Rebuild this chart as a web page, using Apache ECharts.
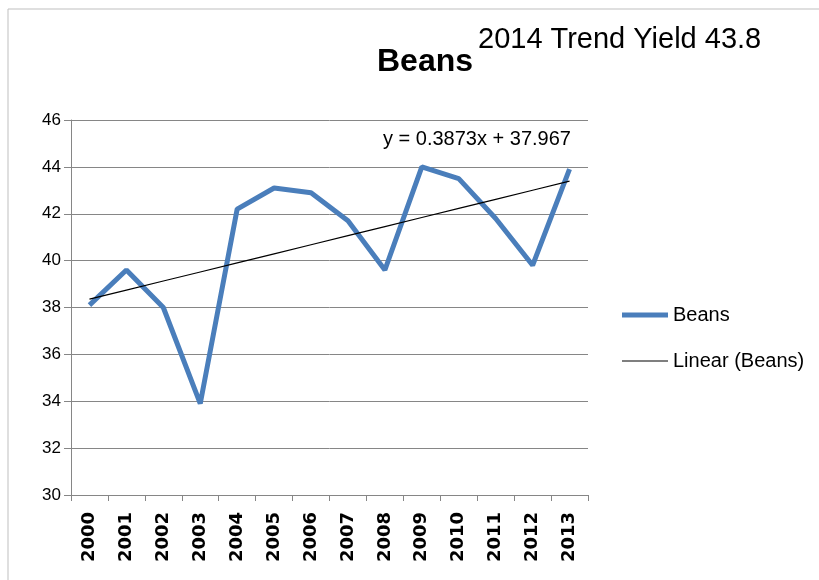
<!DOCTYPE html>
<html><head><meta charset="utf-8">
<script src="https://cdn.jsdelivr.net/npm/echarts@6/dist/echarts.min.js"></script>
<style>html,body{margin:0;padding:0;background:#fff}#c{width:819px;height:580px}</style>
</head><body><div id="c"></div>
<script>
const years = ['2000','2001','2002','2003','2004','2005','2006','2007','2008','2009','2010','2011','2012','2013'];
const beans = [38.1, 39.6, 38.0, 33.9, 42.2, 43.1, 42.9, 41.7, 39.6, 44.0, 43.5, 41.8, 39.8, 43.9];
const slope = 0.3873, intercept = 37.967;
const trend = years.map((_, i) => +(slope * (i + 1) + intercept).toFixed(3));
const yTicks = [30, 46, 2];

const chart = echarts.init(document.getElementById('c'), null, {renderer: 'canvas'});
const font = "'Liberation Sans', sans-serif";
chart.setOption({
  animation: false,
  backgroundColor: '#fff',
  textStyle: {fontFamily: font},
  title: {
    text: 'Beans', left: 420, top: 41, textAlign: 'center',
    textStyle: {fontSize: 32, fontWeight: 'bold', color: '#000', fontFamily: font}
  },
  graphic: [
    {type: 'rect', shape: {x: 8, y: 9, width: 900, height: 700}, style: {fill: 'none', stroke: '#bfbfbf', lineWidth: 1}, silent: true},
    {type: 'text', left: 478, top: 25, style: {text: '2014 Trend Yield 43.8', fontSize: 29, fill: '#000', fontFamily: font}},
    {type: 'text', left: 383, top: 129, style: {text: 'y = 0.3873x + 37.967', fontSize: 20, fill: '#000', fontFamily: font}}
  ],
  legend: {
    orient: 'vertical', left: 617, top: 300, itemGap: 26, itemWidth: 46, itemHeight: 14,
    textStyle: {fontSize: 20, color: '#000', fontFamily: font},
    data: [
      {name: 'Beans', icon: 'path://M0,0 L46,0 L46,5 L0,5 Z'},
      {name: 'Linear (Beans)', icon: 'path://M0,0 L46,0 L46,1 L0,1 Z'}
    ]
  },
  grid: {left: 71, right: 231, top: 120, bottom: 85},
  xAxis: {
    type: 'category', data: years, boundaryGap: true,
    axisLine: {lineStyle: {color: '#868686', width: 1}},
    axisTick: {show: true, length: 6, lineStyle: {color: '#868686'}},
    axisLabel: {rotate: 90, fontSize: 18, fontWeight: 'bold', color: '#000', margin: 17, fontFamily: 'DejaVu Sans'}
  },
  yAxis: {
    type: 'value', min: yTicks[0], max: yTicks[1], interval: yTicks[2],
    axisLine: {show: true, lineStyle: {color: '#868686', width: 1}},
    axisTick: {show: true, length: 7, lineStyle: {color: '#868686'}},
    axisLabel: {fontSize: 17, color: '#000', margin: 10, fontFamily: font},
    splitLine: {lineStyle: {color: '#868686', width: 1}}
  },
  series: [
    {name: 'Beans', type: 'line', data: beans, showSymbol: false, symbol: 'none',
     lineStyle: {color: '#4a7ebb', width: 5}, itemStyle: {color: '#4a7ebb'}},
    {name: 'Linear (Beans)', type: 'line', data: trend, showSymbol: false, symbol: 'none',
     lineStyle: {color: '#000', width: 1.2}, itemStyle: {color: '#000'}, z: 3}
  ]
});
</script></body></html>
